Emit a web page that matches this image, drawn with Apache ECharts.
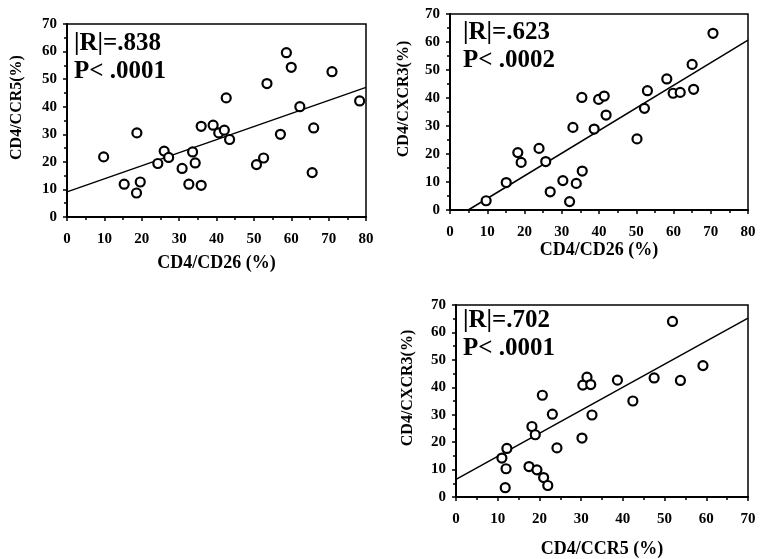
<!DOCTYPE html>
<html>
<head>
<meta charset="utf-8">
<script src="https://cdn.jsdelivr.net/npm/echarts@6/dist/echarts.min.js"></script>
<style>
  html, body { margin: 0; padding: 0; background: #fff; }
  #main { width: 760px; height: 559px; }
</style>
</head>
<body>
<div id="main"></div>
<script>
// panel 1 : CD4/CD26 vs CD4/CCR5
const cd26_a = [9.8, 15.3, 18.7, 19.6, 18.6, 24.3, 26.0, 27.2, 30.8, 32.6, 33.6, 34.3, 35.9, 35.9, 39.1, 40.6, 42.1, 42.6, 43.5, 50.7, 52.6, 53.5, 57.1, 58.7, 60.0, 62.3, 65.6, 66.0, 70.9, 78.3]
const ccr5_a = [21.8, 11.9, 30.5, 12.7, 8.7, 19.4, 23.9, 21.6, 17.6, 11.9, 23.6, 19.6, 11.5, 32.9, 33.3, 30.5, 31.5, 43.2, 28.1, 19.0, 21.4, 48.4, 30.0, 59.6, 54.3, 40.0, 16.1, 32.3, 52.7, 42.1]
const fit_a = [[0, 9.1], [80, 47.0]]

// panel 2 : CD4/CD26 vs CD4/CXCR3
const cd26_b = [9.7, 15.1, 18.2, 19.1, 23.9, 25.7, 26.9, 30.3, 32.1, 33.0, 33.9, 35.5, 35.4, 38.7, 39.9, 41.4, 41.9, 50.2, 52.2, 53.0, 58.2, 59.9, 61.8, 65.0, 65.4, 70.6]
const cxcr3_b = [3.3, 9.8, 20.5, 17.0, 22.0, 17.3, 6.5, 10.5, 3.0, 29.5, 9.5, 13.9, 40.2, 28.9, 39.5, 40.7, 33.9, 25.4, 36.3, 42.6, 46.8, 41.7, 42.0, 52.0, 43.1, 63.1]
const fit_b = [[4.9, 0], [80, 60.7]]

// panel 3 : CD4/CCR5 vs CD4/CXCR3
const ccr5_c = [11.0, 12.2, 12.0, 11.8, 17.5, 18.2, 19.0, 19.4, 20.7, 21.0, 22.0, 23.1, 24.2, 30.2, 30.4, 31.4, 32.3, 32.6, 38.7, 42.4, 47.5, 51.9, 53.8, 59.2]
const cxcr3_c = [14.2, 17.7, 10.3, 3.4, 11.1, 25.7, 22.7, 9.9, 37.1, 7.1, 4.2, 30.2, 17.9, 21.5, 40.8, 43.7, 41.0, 29.9, 42.6, 35.0, 43.4, 64.0, 42.5, 47.9]
const fit_c = [[0, 6.4], [70, 65.2]]

const statsText = [
  ['|R|=.838', 'P< .0001'],
  ['|R|=.623', 'P< .0002'],
  ['|R|=.702', 'P< .0001']
]

const FONT = "'Liberation Serif', 'Times New Roman', serif"

function pairs(xs, ys) {
  return xs.map((x, i) => [x, ys[i]])
}

function xAxisOf(idx, max, name, gap) {
  return {
    gridIndex: idx, type: 'value', min: 0, max: max, interval: 10,
    name: name, nameLocation: 'middle', nameGap: gap,
    nameTextStyle: { color: '#000', fontFamily: FONT, fontWeight: 'bold', fontSize: 18 },
    axisLine: { lineStyle: { color: '#000', width: 2 } },
    axisTick: { show: true, length: 4, lineStyle: { color: '#000', width: 1.5 } },
    minorTick: { show: true, splitNumber: 2, length: 3, lineStyle: { color: '#000', width: 1.5 } },
    axisLabel: { color: '#000', fontFamily: FONT, fontWeight: 'bold', fontSize: 15, margin: 15 },
    splitLine: { show: false }
  }
}

function yAxisOf(idx, name, gap) {
  return {
    gridIndex: idx, type: 'value', min: 0, max: 70, interval: 10,
    name: name, nameLocation: 'middle', nameGap: gap,
    // padding pushes the rotated name a bit upward, like the original
    nameTextStyle: { color: '#000', fontFamily: FONT, fontWeight: 'bold', fontSize: 16, padding: [0, 0, 0, 26] },
    axisLine: { lineStyle: { color: '#000', width: 2 } },
    axisTick: { show: true, length: 4, lineStyle: { color: '#000', width: 1.5 } },
    minorTick: { show: true, splitNumber: 2, length: 3, lineStyle: { color: '#000', width: 1.5 } },
    axisLabel: { color: '#000', fontFamily: FONT, fontWeight: 'bold', fontSize: 15, margin: 10 },
    splitLine: { show: false }
  }
}

function scatterOf(idx, data) {
  return {
    type: 'scatter', xAxisIndex: idx, yAxisIndex: idx, data: data,
    symbol: 'circle', symbolSize: 9,
    itemStyle: { color: '#fff', borderColor: '#000', borderWidth: 2.2, opacity: 1 },
    z: 3
  }
}

function fitOf(idx, data) {
  return {
    type: 'line', xAxisIndex: idx, yAxisIndex: idx, data: data,
    symbol: 'none', lineStyle: { color: '#000', width: 1.5 }, z: 2
  }
}

function statOf(x, y, lines) {
  return {
    type: 'text', left: x, top: y, z: 10,
    style: {
      text: lines.join('\n'), fill: '#000',
      font: 'bold 25px ' + FONT, lineHeight: 28
    }
  }
}

const chart = echarts.init(document.getElementById('main'))

const option = {
  backgroundColor: '#fff',
  animation: false,
  grid: [
    { left: 67, top: 24, width: 299, height: 193, show: true, borderColor: '#000', borderWidth: 1.5 },
    { left: 450, top: 14, width: 298, height: 196, show: true, borderColor: '#000', borderWidth: 1.5 },
    { left: 456, top: 305, width: 292, height: 193, show: true, borderColor: '#000', borderWidth: 1.5 }
  ],
  xAxis: [
    xAxisOf(0, 80, 'CD4/CD26 (%)', 37),
    xAxisOf(1, 80, 'CD4/CD26 (%)', 29),
    xAxisOf(2, 70, 'CD4/CCR5 (%)', 43)
  ],
  yAxis: [
    yAxisOf(0, 'CD4/CCR5(%)', 42),
    yAxisOf(1, 'CD4/CXCR3(%)', 38),
    yAxisOf(2, 'CD4/CXCR3(%)', 40)
  ],
  series: [
    fitOf(0, fit_a), scatterOf(0, pairs(cd26_a, ccr5_a)),
    fitOf(1, fit_b), scatterOf(1, pairs(cd26_b, cxcr3_b)),
    fitOf(2, fit_c), scatterOf(2, pairs(ccr5_c, cxcr3_c))
  ],
  graphic: [
    statOf(74, 30, statsText[0]),
    statOf(463, 19, statsText[1]),
    statOf(463, 307, statsText[2])
  ]
}

chart.setOption(option)
</script>
</body>
</html>
